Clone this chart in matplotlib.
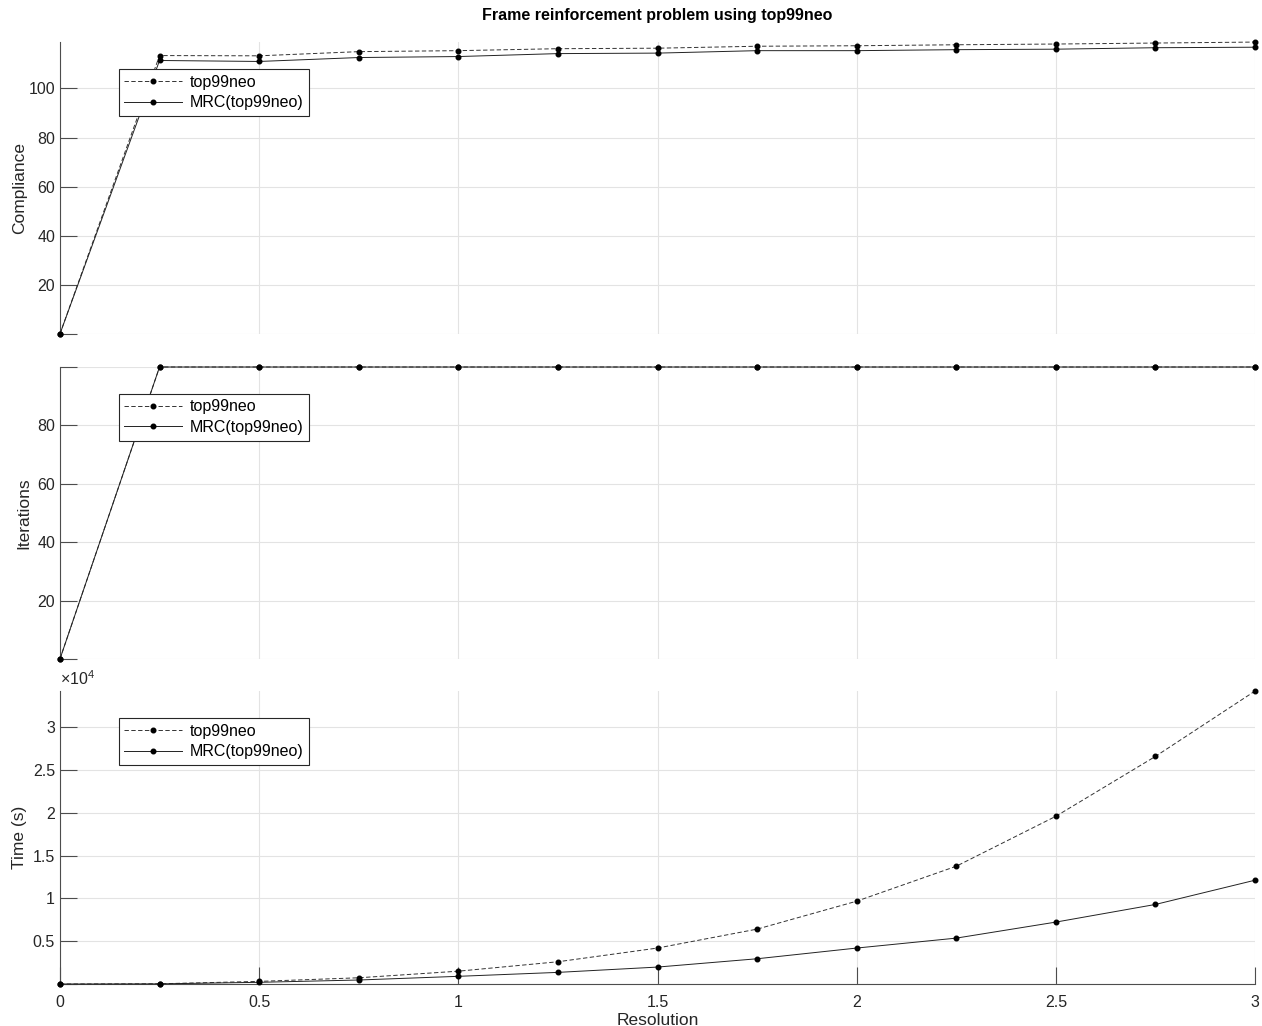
import numpy as np
import matplotlib
matplotlib.use('Agg')
import matplotlib.pyplot as plt
from matplotlib.ticker import FuncFormatter

plt.rcParams['font.family'] = ['Liberation Sans', 'DejaVu Sans']
plt.rcParams['mathtext.fontset'] = 'custom'
plt.rcParams['mathtext.rm'] = 'Liberation Sans'
plt.rcParams['mathtext.it'] = 'Liberation Sans'

# Data
resolution = [0, 0.25, 0.5, 0.75, 1.0, 1.25, 1.5, 1.75, 2.0, 2.25, 2.5, 2.75, 3.0]

compliance_top = [0, 113.4, 113.3, 115.0, 115.4, 116.2, 116.4, 117.2, 117.4, 117.8, 118.1, 118.5, 118.9]
compliance_mrc = [0, 111.4, 111.0, 112.6, 113.0, 114.2, 114.4, 115.4, 115.4, 115.8, 116.0, 116.6, 116.8]

iterations_top = [0, 100, 100, 100, 100, 100, 100, 100, 100, 100, 100, 100, 100]
iterations_mrc = [0, 100, 100, 100, 100, 100, 100, 100, 100, 100, 100, 100, 100]

time_top = [0, 30, 310, 730, 1500, 2600, 4200, 6410, 9670, 13750, 19580, 26570, 34200]
time_mrc = [0, 20, 200, 470, 900, 1360, 1980, 2950, 4200, 5360, 7230, 9290, 12120]

labels = ['top99neo', 'MRC(top99neo)']
xticks = [0, 0.5, 1, 1.5, 2, 2.5, 3]

fig = plt.figure(figsize=(12.62, 10.26), dpi=100)
left, right = 0.0475, 0.9945
ax1 = fig.add_axes([left, 0.6745, right - left, 0.959 - 0.6745])
ax2 = fig.add_axes([left, 0.3577, right - left, 0.6423 - 0.3577])
ax3 = fig.add_axes([left, 0.0409, right - left, 0.3265 - 0.0409])

axis_col = '#4d4d4d'
grid_col = '#e3e3e3'


def style(ax, show_x):
    for s in ['top', 'right']:
        ax.spines[s].set_visible(False)
    ax.spines['left'].set_color(axis_col)
    ax.spines['left'].set_linewidth(0.8)
    if show_x:
        ax.spines['bottom'].set_color(axis_col)
        ax.spines['bottom'].set_linewidth(0.8)
    else:
        ax.spines['bottom'].set_visible(False)
    ax.grid(True, color=grid_col, linewidth=0.8)
    ax.set_axisbelow(True)
    ax.set_xlim(0, 3)
    ax.set_xticks(xticks)
    ax.tick_params(direction='in', length=12, width=0.8, color=axis_col,
                   labelsize=11.5, labelcolor='#262626')
    if not show_x:
        ax.tick_params(axis='x', length=0, labelbottom=False)


def draw(ax, a, b):
    ax.plot(resolution, a, color='#333333', linewidth=0.7, dashes=(4.5, 2.5),
            marker='o', markersize=3.3, markerfacecolor='black',
            markeredgecolor='black', label=labels[0], clip_on=False, zorder=3)
    ax.plot(resolution, b, color='#222222', linewidth=0.7, linestyle='-',
            marker='o', markersize=3.3, markerfacecolor='black',
            markeredgecolor='black', label=labels[1], clip_on=False, zorder=3)
    leg = ax.legend(loc='upper left', bbox_to_anchor=(0.049, 0.908),
                    fontsize=11.5, fancybox=False, framealpha=1,
                    edgecolor='#262626', borderpad=0.35, labelspacing=0.35,
                    handlelength=3.6, handletextpad=0.5, borderaxespad=0)
    leg.get_frame().set_linewidth(0.8)


# Compliance
draw(ax1, compliance_top, compliance_mrc)
style(ax1, False)
ax1.set_ylim(0, max(compliance_top))
ax1.set_yticks([0, 20, 40, 60, 80, 100])
ax1.set_yticklabels(['', '20', '40', '60', '80', '100'])
ax1.set_ylabel('Compliance', fontsize=12.5, color='#262626', labelpad=1)
ax1.set_title('Frame reinforcement problem using top99neo', fontsize=11.5,
              fontweight='bold', pad=16)

# Iterations
draw(ax2, iterations_top, iterations_mrc)
style(ax2, False)
ax2.set_ylim(0, 100)
ax2.set_yticks([0, 20, 40, 60, 80, 100])
ax2.set_yticklabels(['', '20', '40', '60', '80', ''])
ax2.set_ylabel('Iterations', fontsize=12.5, color='#262626')

# Time
draw(ax3, time_top, time_mrc)
style(ax3, True)
ax3.set_ylim(0, max(time_top))
ax3.set_yticks([0, 5000, 10000, 15000, 20000, 25000, 30000])
ax3.yaxis.set_major_formatter(FuncFormatter(
    lambda v, p: '' if v == 0 else ('%g' % (v / 1e4))))
ax3.xaxis.set_major_formatter(FuncFormatter(lambda v, p: '%g' % v))
ax3.text(0, 1.01, r'$\times10^{4}$', transform=ax3.transAxes,
         fontsize=11.5, color='#262626', ha='left', va='bottom')
ax3.set_ylabel('Time (s)', fontsize=12.5, color='#262626')
ax3.set_xlabel('Resolution', fontsize=12.5, color='#262626', labelpad=2)
ax3.tick_params(axis='x', pad=8)

fig.savefig('out.png', dpi=100)
